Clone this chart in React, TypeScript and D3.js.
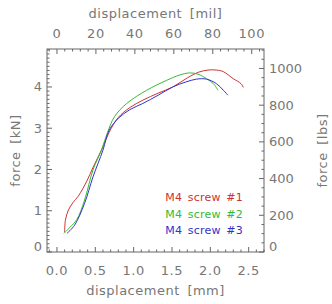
import React from 'react';
import * as d3 from 'd3';

// force vs displacement for three M4 screws
const screw1 = [
  [0.10, 0.48], [0.11, 0.77], [0.15, 1.02], [0.21, 1.20], [0.28, 1.36],
  [0.39, 1.72], [0.47, 2.05], [0.58, 2.47], [0.68, 2.90], [0.80, 3.26],
  [0.95, 3.50], [1.12, 3.68], [1.32, 3.85], [1.51, 4.00], [1.70, 4.22],
  [1.85, 4.36], [1.97, 4.41], [2.08, 4.41], [2.17, 4.37], [2.30, 4.20],
  [2.40, 4.08], [2.43, 3.99],
];
const screw2 = [
  [0.09, 0.45], [0.17, 0.60], [0.26, 0.79], [0.36, 1.26], [0.47, 1.99],
  [0.58, 2.47], [0.66, 2.90], [0.75, 3.28], [0.91, 3.60], [1.17, 3.92],
  [1.43, 4.16], [1.60, 4.29], [1.73, 4.34], [1.84, 4.31], [1.95, 4.20],
  [2.04, 4.08], [2.10, 3.92],
];
const screw3 = [
  [0.13, 0.45], [0.23, 0.65], [0.36, 1.18], [0.47, 1.82], [0.60, 2.47],
  [0.68, 2.95], [0.80, 3.24], [0.95, 3.45], [1.12, 3.60], [1.32, 3.80],
  [1.51, 4.00], [1.68, 4.12], [1.82, 4.19], [1.95, 4.19], [2.08, 4.08],
  [2.17, 3.92], [2.23, 3.80],
];
const seriesNames = ['M4 screw #1', 'M4 screw #2', 'M4 screw #3'];
const seriesColors = ['#cc3333', '#33bb33', '#3333cc'];

const mmTicks = [0, 0.5, 1.0, 1.5, 2.0, 2.5];
const milTicks = [0, 20, 40, 60, 80, 100];
const kNTicks = [0, 1, 2, 3, 4];
const lbsTicks = [0, 200, 400, 600, 800, 1000];

const L = 47, R = 264, T = 49, B = 252;
const ink = '#666';
const textInk = '#777';
const font = '"DejaVu Sans", sans-serif';

export default function App() {
  const x = d3.scaleLinear().domain([-0.13, 2.7]).range([L, R]);
  const xMil = d3.scaleLinear().domain([-0.13 / 0.0254, 2.7 / 0.0254]).range([L, R]);
  const y = d3.scaleLinear().domain([0, 4.92]).range([B, T]);
  const yLbs = d3.scaleLinear().domain([0, 4.92 * 224.809]).range([B, T]);

  const line = d3.line<number[]>()
    .x((d) => x(d[0]))
    .y((d) => y(d[1]))
    .curve(d3.curveCatmullRom);

  const minors = (scale: d3.ScaleLinear<number, number>, step: number) => {
    const [a, b] = scale.domain();
    return d3.range(Math.ceil(a / step), Math.floor(b / step) + 1).map((i) => i * step);
  };

  const tick = (key: string, x1: number, y1: number, x2: number, y2: number) => (
    <line key={key} x1={x1} y1={y1} x2={x2} y2={y2} stroke={ink} strokeWidth={1} />
  );

  const ticks: React.ReactNode[] = [];
  minors(x, 0.1).forEach((v, i) => {
    const big = mmTicks.some((m) => Math.abs(m - v) < 1e-6);
    ticks.push(tick(`b${i}`, x(v), B, x(v), B - (big ? 5 : 2.5)));
  });
  minors(xMil, 4).forEach((v, i) => {
    const big = v % 20 === 0;
    ticks.push(tick(`t${i}`, xMil(v), T, xMil(v), T + (big ? 5 : 2.5)));
  });
  minors(y, 0.1).forEach((v, i) => {
    const big = kNTicks.some((m) => Math.abs(m - v) < 1e-6);
    ticks.push(tick(`l${i}`, L, y(v), L + (big ? 5 : 2.5), y(v)));
  });
  minors(yLbs, 50).forEach((v, i) => {
    const big = v % 200 === 0;
    ticks.push(tick(`r${i}`, R, yLbs(v), R - (big ? 5 : 2.5), yLbs(v)));
  });

  const data = [screw1, screw2, screw3];

  return (
    <svg width={332} height={304} style={{ position: 'absolute', left: 0, top: 0 }}
      fontFamily={font} fill={textInk}>
      <rect x={0} y={0} width={332} height={304} fill="#fff" />
      <rect x={L} y={T} width={R - L} height={B - T} fill="none" stroke={ink} strokeWidth={1} />
      {ticks}

      {data.map((d, i) => (
        <path key={i} d={line(d) || ''} fill="none" stroke={seriesColors[i]} strokeWidth={1} />
      ))}

      {mmTicks.map((v) => (
        <text key={`bm${v}`} x={x(v)} y={275} textAnchor="middle" fontSize={13} letterSpacing={0.6}>
          {v.toFixed(1)}
        </text>
      ))}
      {milTicks.map((v) => (
        <text key={`tm${v}`} x={xMil(v)} y={38} textAnchor="middle" fontSize={13} letterSpacing={0.6}>
          {v}
        </text>
      ))}
      {kNTicks.map((v) => (
        <text key={`lm${v}`} x={42} y={Math.min(y(v), 246) + 4.5} textAnchor="end" fontSize={13}>
          {v}
        </text>
      ))}
      {lbsTicks.map((v) => (
        <text key={`rm${v}`} x={269} y={Math.min(yLbs(v), 246) + 4.5} textAnchor="start" fontSize={13}>
          {v}
        </text>
      ))}

      <text x={(L + R) / 2} y={295} textAnchor="middle" fontSize={13} letterSpacing={0.5} wordSpacing={3}>
        displacement [mm]
      </text>
      <text x={(L + R) / 2} y={18} textAnchor="middle" fontSize={13} letterSpacing={0.5} wordSpacing={3}>
        displacement [mil]
      </text>
      <text transform={`translate(20, ${(T + B) / 2}) rotate(-90)`} textAnchor="middle"
        fontSize={13} letterSpacing={0.5} wordSpacing={3}>
        force [kN]
      </text>
      <text transform={`translate(327, ${(T + B) / 2}) rotate(-90)`} textAnchor="middle"
        fontSize={13} letterSpacing={0.5} wordSpacing={3}>
        force [lbs]
      </text>

      {seriesNames.map((n, i) => (
        <text key={n} x={243} y={201 + i * 16.5} textAnchor="end" fontSize={11}
          fill={seriesColors[i]} letterSpacing={0.2} wordSpacing={2}>
          {n}
        </text>
      ))}
    </svg>
  );
}
